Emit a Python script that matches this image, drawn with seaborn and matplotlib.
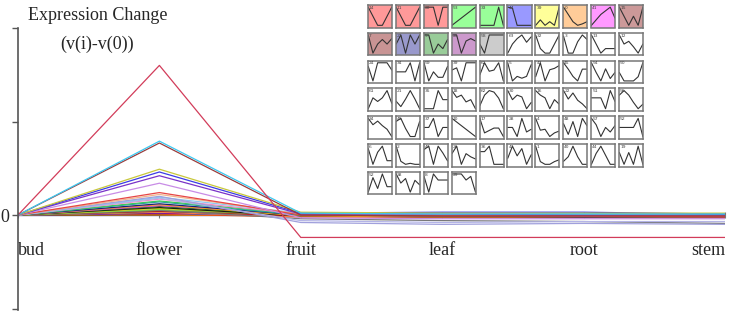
import numpy as np
import pandas as pd
import matplotlib
matplotlib.use("Agg")
import matplotlib.pyplot as plt
import seaborn as sns

# ---------------- data ----------------
tissues = ["bud", "flower", "fruit", "leaf", "root", "stem"]

main_colors = ["#d23c5a", "#3cc8f0", "#9a3c3c", "#c8c83c", "#3c3ce6", "#7a32c8",
               "#c88ce6", "#e64646", "#f0b48c", "#a0a0dc", "#8cc8f0", "#b4b4e6",
               "#f08cc8", "#3cc85a", "#28a0a0", "#1e1e78", "#f0a01e", "#dc3cdc",
               "#1e6e1e", "#141414", "#dcc81e", "#78dc3c", "#787878", "#8c8c3c",
               "#b41e1e", "#4682b4", "#ff7f50", "#32cd32", "#8b008b", "#1e90ff",
               "#e6461e", "#006400", "#ffa500", "#000080"]

main_values = [
    [0, 1.60, -0.24, -0.24, -0.24, -0.24],
    [0, 0.79, 0.02, 0.01, 0.01, 0.01],
    [0, 0.77, 0.00, -0.01, -0.01, -0.01],
    [0, 0.49, 0.03, 0.02, 0.02, 0.02],
    [0, 0.46, 0.02, 0.03, 0.03, 0.01],
    [0, 0.42, 0.01, 0.01, 0.00, 0.00],
    [0, 0.34, -0.03, -0.04, -0.04, -0.04],
    [0, 0.24, 0.00, -0.01, -0.01, -0.02],
    [0, 0.22, 0.01, 0.00, 0.00, 0.00],
    [0, 0.20, -0.08, -0.10, -0.09, -0.10],
    [0, 0.19, 0.02, 0.02, 0.01, 0.01],
    [0, 0.18, -0.06, -0.08, -0.07, -0.07],
    [0, 0.17, 0.01, 0.00, -0.01, -0.01],
    [0, 0.15, 0.01, 0.00, 0.00, 0.00],
    [0, 0.14, 0.00, -0.01, -0.01, -0.01],
    [0, 0.12, 0.00, -0.01, -0.02, -0.02],
    [0, 0.11, -0.01, -0.02, -0.02, -0.03],
    [0, 0.10, 0.01, 0.00, 0.00, 0.00],
    [0, 0.09, 0.00, -0.01, -0.01, -0.01],
    [0, 0.08, -0.01, -0.02, -0.02, -0.02],
    [0, 0.07, 0.00, 0.00, 0.00, 0.00],
    [0, 0.06, 0.01, 0.01, 0.01, 0.01],
    [0, 0.05, -0.04, -0.06, -0.07, -0.09],
    [0, 0.05, 0.00, -0.01, -0.01, -0.01],
    [0, 0.04, -0.01, -0.02, -0.02, -0.02],
    [0, 0.04, 0.01, 0.00, 0.00, 0.00],
    [0, 0.03, -0.02, -0.03, -0.03, -0.03],
    [0, 0.03, 0.01, 0.01, 0.01, 0.01],
    [0, 0.02, 0.00, 0.00, 0.00, 0.00],
    [0, 0.02, -0.01, -0.01, -0.01, -0.01],
    [0, 0.01, -0.02, -0.02, -0.02, -0.02],
    [0, 0.01, 0.00, -0.01, -0.01, -0.01],
    [0, 0.00, -0.01, -0.01, -0.02, -0.02],
    [0, 0.00, 0.00, 0.00, 0.00, 0.00],
]

y_ticks = [-1, 0, 1, 2]
y_ticklabels = ["", "0", "", ""]

thumb_labels = [
    "14", "11", "20", "53", "33", "44", "39", "0", "41", "15",
    "7", "23", "9", "25", "58", "63", "32", "3", "13", "12",
    "24", "34", "59", "39", "62", "5", "47", "45", "54", "50",
    "61", "21", "35", "18", "62", "30", "16", "22", "51", "56",
    "34", "49", "37", "10", "17", "28", "4", "48", "57", "52",
    "6", "2", "42", "26", "36", "43", "1", "40", "44", "19",
    "52", "38", "8", "29",
]

thumb_colors = (["#ff9999", "#ff9999", "#ff9999", "#99ff99", "#99ff99", "#9999ff",
                 "#ffff99", "#ffcc99", "#ff99ff", "#cc9999",
                 "#c89494", "#9999cc", "#99cc99", "#cc99cc", "#cccccc"]
                + ["#ffffff"] * 49)

thumb_profiles = [
    [0, -1, -2, -2, -1, 0], [0, -1, -2, -2, -1, 0], [1, 1, 1, -1, 1, 1],
    [0, 0.2, 0.4, 0.6, 0.8, 1], [0, 0, 0, 0, 1, 0], [1, 0.9, -1, -1, -1, -1],
    [0, 0.3, 0, 0.2, 0, 1], [0, -1, -2, -2.5, -2.3, -2], [0, 0.3, 0.6, 0.8, 1, 0.4],
    [1, 0, -1, 0, -1, 1],
    [1, -1, 0, 0.5, 0, 0.6], [0, 1, -1, 1, 0, 1], [1, 1, -1, 0, -0.5, 0.5],
    [0.5, 0.5, -1, 0, 0.2, 0], [0.5, 0, 1, 1, 1, 1], [0, 0.5, 0.8, 1, 0.6, 0.9],
    [1, -0.5, -1, -1, 0, 1], [0.5, -1, -1, 0, 0.6, 0.2], [1, 0, -1, -0.5, -0.5, -0.5],
    [1, 0, 0.3, -0.3, -1, 0],
    [0, -2, 0.5, 0.5, 0.5, -0.5], [0, 0, 0, 1, -1, 1], [1, 0, 0.5, 0.2, 0.2, 0.8],
    [0, 0.3, -1.5, 1, 1, 1], [0, 1, 0.3, 0.4, 1, -0.5], [1, -1, -0.5, -0.7, -0.5, 0.8],
    [0, 1, -0.3, 0.5, 0.6, 0.8], [1, 0.3, -0.5, -1, 0.3, 0.3], [1, 0.2, -0.5, 0.5, -0.3, 0.2],
    [0.3, -0.3, -0.3, -0.3, 0, 1],
    [0, 0.6, 0.4, 0.6, 1, 0.3], [0, -0.5, 0.2, 1, 0.2, -0.7], [0, 0, 0, 1, 0.5, 0.5],
    [1, 0.4, 0.6, 0, 0.2, -0.6], [0, 0.7, 1, 0.9, 0.5, -0.2], [1, 0, 0.5, 0.3, -1, -0.3],
    [1, 0.5, 0.2, -1, 0, -0.5], [0.5, -0.2, 0.3, -0.3, -0.6, -1], [0.2, 0.2, 0.2, -1, 1, -0.2],
    [0.5, 1, 0.5, -0.3, -1, -0.5],
    [1, 0.3, 0.7, 0.2, -0.2, -1], [0.5, 0.8, -0.2, -1, -1, 0.5], [0, 0, 1, -1, 0, 0],
    [1, 0.8, 0.6, 0.4, 0.2, 0], [1, -0.2, 0, 0.2, 0.2, -0.5], [0, 0, -1, 1, -0.5, -0.2],
    [1, -0.3, -0.2, -1, -0.6, -0.4], [0.5, -0.5, 0.7, -0.7, 1, 0.3], [1, 0.3, -1, 0, -0.5, 0.2],
    [0, 0, 0, 0, 1, -1],
    [0.3, -1, 0, 0.5, -0.7, -0.7], [1, -0.5, -0.8, -0.7, -0.8, -0.8], [0.3, 0.6, -1, 0.6, 0, -0.7],
    [0, 0.7, -1, 0, -0.3, -0.5], [0.4, 0.4, 1, -1, -1, -1], [0, 1, 0.2, 0.8, -0.5, 0.3],
    [1, -0.7, -1, -1, -0.7, -0.5], [0, 0.3, 1, 0.3, -0.2, -0.2], [0, 0.6, 1, 0.5, 0, 0],
    [0.3, -1, 0.3, -1, 1, -1],
    [0, 0.8, 0.2, 1, 0.3, 0.3], [1, 0, 0.5, -1, 0.3, -0.2], [0.3, -1, 0.5, 0, 0, 0],
    [0.5, 0.5, 0.5, 0, 0.3, -1],
]

# ---------------- style ----------------
sns.set_style("white")
plt.rcParams["font.family"] = ["Liberation Serif", "DejaVu Serif"]

W, H = 743, 318
fig = plt.figure(figsize=(W / 100, H / 100), dpi=100)

# main axes
ax = fig.add_axes([18 / W, 8 / H, 707 / W, 282 / H])
names = [f"s{i}" for i in range(len(main_values))]
rows = []
for n, vals in zip(names, main_values):
    for t, v in zip(tissues, vals):
        rows.append({"tissue": t, "value": v, "series": n})
df = pd.DataFrame(rows)
order = names[::-1]
pal = dict(zip(names, main_colors))
sns.lineplot(data=df, x="tissue", y="value", hue="series", hue_order=order,
             palette=pal, estimator=None, errorbar=None, sort=False,
             legend=False, linewidth=0.9, ax=ax)

ax.set_xlim(0, 5)
ax.set_ylim(-1.016, 2.0)
ax.set_xlabel("")
ax.set_ylabel("")
ax.set_yticks(y_ticks)
ax.set_yticklabels(y_ticklabels)
ax.set_xticks(range(len(tissues)))
ax.set_xticklabels(tissues)

for s in ["top", "right"]:
    ax.spines[s].set_visible(False)
ax.spines["left"].set_color("#555555")
ax.spines["left"].set_linewidth(1.2)
ax.spines["bottom"].set_position(("data", 0))
ax.spines["bottom"].set_visible(False)
ax.tick_params(axis="y", direction="out", length=4, width=1.0, color="#555555",
               labelsize=13, pad=2, left=True)
ax.tick_params(axis="x", direction="inout", length=5, width=0.8, color="#777777",
               labelsize=13, pad=17, bottom=True)
ax.set_facecolor("none")
ax.patch.set_alpha(0)

fig.text(28 / W, 1 - 16 / H, "Expression Change", fontsize=13, va="center", ha="left")
fig.text(60 / W, 1 - 44 / H, "(v(i)-v(0))", fontsize=13, va="center", ha="left")

# thumbnails
x0, dx, bw = 368, 27.9, 24
y0, dy, bh = 5, 27.8, 22.5
xs = list(range(6))
for k, (lab, prof, col) in enumerate(zip(thumb_labels, thumb_profiles, thumb_colors)):
    r, c = divmod(k, 10)
    left = x0 + c * dx
    top = y0 + r * dy
    tax = fig.add_axes([left / W, 1 - (top + bh) / H, bw / W, bh / H])
    tax.set_facecolor(col)
    sns.lineplot(x=xs, y=prof, ax=tax, color="#333333", linewidth=0.8)
    lo, hi = min(prof), max(prof)
    pad = (hi - lo) * 0.12 if hi > lo else 0.5
    tax.set_xlim(-0.05, 5.05)
    tax.set_ylim(lo - pad, hi + pad)
    tax.set_xticks([])
    tax.set_yticks([])
    tax.set_xlabel("")
    tax.set_ylabel("")
    for s in tax.spines.values():
        s.set_visible(True)
        s.set_color("#777777")
        s.set_linewidth(1.1)
    tax.text(0.04, 0.96, lab, transform=tax.transAxes, fontsize=3.2,
             va="top", ha="left", color="#444444", family="DejaVu Sans")

fig.canvas.draw()
aligns = ["left", "center", "center", "center", "center", "right"]
for tick, ha in zip(ax.xaxis.get_major_ticks(), aligns):
    tick.label1.set_horizontalalignment(ha)

fig.savefig("out.png", dpi=100)
